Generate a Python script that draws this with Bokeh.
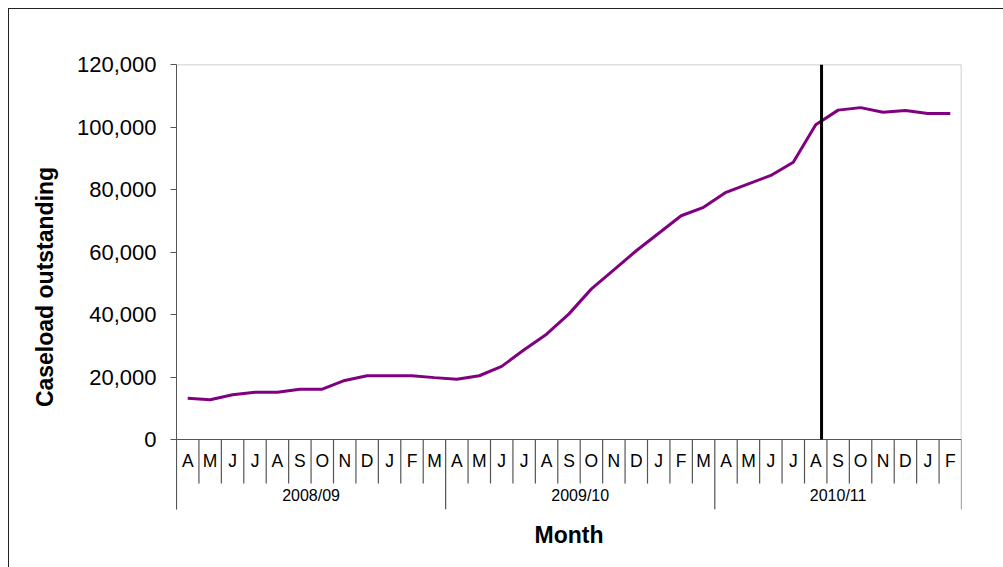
from bokeh.plotting import figure
from bokeh.models import Range1d, FixedTicker, NumeralTickFormatter
from bokeh.core.properties import value
from bokeh.embed import file_html
from bokeh.resources import INLINE

# ---- data ----
months = ["A", "M", "J", "J", "A", "S", "O", "N", "D", "J", "F", "M",
          "A", "M", "J", "J", "A", "S", "O", "N", "D", "J", "F", "M",
          "A", "M", "J", "J", "A", "S", "O", "N", "D", "J", "F"]
years = ["2008/09", "2009/10", "2010/11"]
months_per_year = [12, 12, 11]
caseload = [13200, 12700, 14300, 15100, 15100, 16100, 16100, 18900, 20400, 20400, 20400, 19800,
            19300, 20400, 23400, 28700, 33700, 40200, 48200, 54300, 60400, 66000, 71600, 74300,
            79100, 81800, 84500, 88700, 100700, 105400, 106200, 104700, 105300, 104300, 104300]
marker_position = 28.76          # vertical marker, in month slots (during Aug 2010)
y_ticks = [0, 20000, 40000, 60000, 80000, 100000, 120000]
y_max = 120000

FONT = "Liberation Sans"
n = len(months)
xs = [i + 0.5 for i in range(n)]
table_bottom = -22400
month_row_y = -7000
month_row_bottom = -14100
year_row_y = -18000

p = figure(width=995, height=559, output_backend="svg", toolbar_location=None,
           x_range=Range1d(0, n), y_range=Range1d(table_bottom, y_max),
           min_border_left=167, min_border_top=55, min_border_right=43, min_border_bottom=59)
p.styles = {"margin-left": "8px", "margin-top": "8px",
            "border-left": "1.5px solid #222222", "border-top": "1.5px solid #222222"}
p.outline_line_color = None
p.grid.visible = False
p.background_fill_color = "white"
p.border_fill_color = "white"

# y axis
p.yaxis.ticker = FixedTicker(ticks=y_ticks)
p.yaxis.formatter = NumeralTickFormatter(format="0,0")
p.yaxis.major_label_text_font = FONT
p.yaxis.major_label_text_font_size = "22px"
p.yaxis.major_label_text_color = "black"
p.yaxis.major_label_standoff = 14
p.yaxis.major_tick_out = 6
p.yaxis.major_tick_in = 0
p.yaxis.minor_tick_out = 0
p.yaxis.minor_tick_in = 0
p.yaxis.axis_line_color = "#555555"
p.yaxis.major_tick_line_color = "#555555"
p.yaxis.axis_label = "Caseload outstanding"
p.yaxis.axis_label_text_font = FONT
p.yaxis.axis_label_text_font_style = "bold"
p.yaxis.axis_label_text_font_size = "23px"
p.yaxis.axis_label_text_color = "black"
p.yaxis.axis_label_standoff = 16

# x axis: only the title
p.xaxis.ticker = FixedTicker(ticks=[])
p.xaxis.axis_line_color = None
p.xaxis.major_tick_out = 0
p.xaxis.minor_tick_out = 0
p.xaxis.axis_label = "Month"
p.xaxis.axis_label_text_font = FONT
p.xaxis.axis_label_text_font_style = "bold"
p.xaxis.axis_label_text_font_size = "23px"
p.xaxis.axis_label_text_color = "black"
p.xaxis.axis_label_standoff = 12

# plot-area border (top and right, light gray)
p.segment(x0=[0, n], y0=[y_max, 0], x1=[n, n], y1=[y_max, y_max], line_color="#c0c0c0", line_width=1.5)
# category axis line
p.segment(x0=[0], y0=[0], x1=[n], y1=[0], line_color="#555555", line_width=1.2)

# month separators
year_bounds = [0]
for c in months_per_year:
    year_bounds.append(year_bounds[-1] + c)
month_bounds = [b for b in range(n + 1) if b not in year_bounds]
p.segment(x0=month_bounds, y0=[0] * len(month_bounds), x1=month_bounds,
          y1=[month_row_bottom] * len(month_bounds), line_color="#555555", line_width=1.2)
p.segment(x0=year_bounds, y0=[0] * len(year_bounds), x1=year_bounds,
          y1=[table_bottom] * len(year_bounds), line_color="#555555", line_width=1.2)

# month letters
p.text(x=xs, y=[month_row_y] * n, text=months, text_align="center", text_baseline="middle",
       text_font=value(FONT), text_font_size="17.5px", text_color="black")
# year labels
year_centers = [(year_bounds[i] + year_bounds[i + 1]) / 2 for i in range(len(years))]
p.text(x=year_centers, y=[year_row_y] * len(years), text=years, text_align="center",
       text_baseline="middle", text_font=value(FONT), text_font_size="16px", text_color="black")

# data line
p.line(xs, caseload, line_color="#800080", line_width=3)

# vertical marker
p.segment(x0=[marker_position], y0=[0], x1=[marker_position], y1=[y_max], line_color="black", line_width=3)

open("out.html", "w").write(file_html(p, INLINE))
